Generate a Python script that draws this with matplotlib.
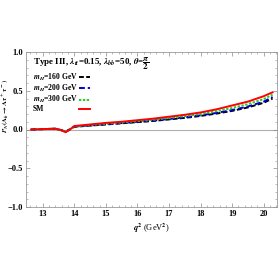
import matplotlib
matplotlib.use("Agg")
import matplotlib.pyplot as plt
from matplotlib.ticker import MultipleLocator

plt.rcParams["font.family"] = ["Liberation Serif", "DejaVu Serif"]
plt.rcParams["mathtext.fontset"] = "stix"
plt.rcParams["font.weight"] = "bold"

q2 = [12.63, 13.0, 13.4, 13.6, 13.72, 13.85, 14.0, 14.5, 15.0, 15.5, 16.0,
      16.5, 17.0, 17.5, 18.0, 18.5, 19.0, 19.5, 20.0, 20.28]
sm = [0.0, 0.005, 0.01, -0.01, -0.035, -0.005, 0.045, 0.065, 0.085, 0.10, 0.12,
      0.14, 0.165, 0.19, 0.22, 0.26, 0.31, 0.36, 0.43, 0.48]
mh160 = [0.0, 0.005, 0.01, -0.01, -0.03, 0.0, 0.035, 0.05, 0.065, 0.08, 0.095,
         0.11, 0.13, 0.15, 0.175, 0.205, 0.24, 0.285, 0.345, 0.40]
mh200 = [0.0, 0.005, 0.01, -0.01, -0.03, 0.0, 0.037, 0.053, 0.068, 0.083, 0.099,
         0.115, 0.136, 0.157, 0.183, 0.214, 0.251, 0.297, 0.36, 0.42]
mh300 = [0.0, 0.005, 0.01, -0.01, -0.03, 0.0, 0.04, 0.058, 0.075, 0.091, 0.108,
         0.126, 0.149, 0.172, 0.2, 0.236, 0.278, 0.327, 0.393, 0.45]

fig = plt.figure(figsize=(2.78, 2.78), dpi=100)
ax = fig.add_axes([26 / 278, 1 - 207 / 278, 251 / 278, 155 / 278])

ax.axhline(0, color="#b0b0b0", lw=0.8, zorder=0)
ax.plot(q2, mh160, color="black", ls=(0, (2.5, 1.2)), lw=1.4, label=r"$m_H$=160 GeV")
ax.plot(q2, mh200, color="#0000cc", ls=(0, (3, 1.5)), lw=1.4, label=r"$m_H$=200 GeV")
ax.plot(q2, mh300, color="#22cc22", ls=(0, (1.2, 0.8)), lw=1.4, label=r"$m_H$=300 GeV")
ax.plot(q2, sm, color="red", lw=1.4, label="SM")

ax.set_xlim(12.47, 20.42)
ax.set_ylim(-1.0, 1.0)
ax.xaxis.set_major_locator(MultipleLocator(1))
ax.xaxis.set_minor_locator(MultipleLocator(0.2))
ax.yaxis.set_minor_locator(MultipleLocator(0.1))
ax.set_yticks([-1.0, -0.5, 0.0, 0.5, 1.0])
ax.set_yticklabels(["\u22121.0", "\u22120.5", "0.0", "0.5", "1.0"])
ax.tick_params(which="both", direction="in", top=True, right=True,
               labelsize=6, color="#888888", pad=2)
ax.tick_params(which="major", length=3, width=0.5)
ax.tick_params(which="minor", length=1.5, width=0.4)
for s in ax.spines.values():
    s.set_color("#999999")
    s.set_linewidth(0.6)

leg = ax.legend(loc="upper left", frameon=False, fontsize=5.5,
                title=r"Type III, $\lambda_{tt}$=0.15, $\lambda_{bb}$=50, $\theta$=$\dfrac{\pi}{2}$",
                title_fontsize=6.5, markerfirst=False, handlelength=1.4,
                handletextpad=0.2, labelspacing=0.0, borderaxespad=0.2,
                borderpad=0.2, bbox_to_anchor=(0.015, 1.0))
leg._legend_box.align = "left"
leg._legend_box.sep = 0
leg.get_title().set_fontweight("bold")

# labels left, handles in one column on the right (as in the original)
renderer = fig.canvas.get_renderer()
for col in leg._legend_handle_box.get_children():
    rows = col.get_children()
    col.width = max(r.get_bbox(renderer).width for r in rows)
    col.align = "left"
    for r in rows:
        r.mode = "expand"

ax.set_xlabel(r"$q^2$ (GeV$^2$)", fontsize=6, labelpad=3)
fig.text(0.02, 0.62, r"$P_N(\Lambda_b\rightarrow\Lambda\tau^+\tau^-)$", rotation=90,
         fontsize=5, ha="center", va="center")

fig.savefig("out.png", dpi=100)
